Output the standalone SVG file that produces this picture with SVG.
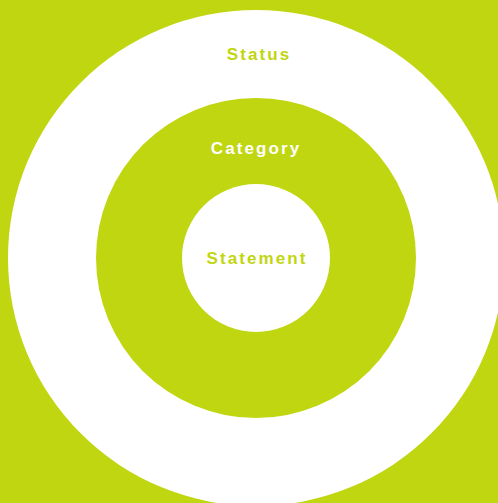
<svg xmlns="http://www.w3.org/2000/svg" width="498" height="503" viewBox="0 0 498 503">
<style>
.lbl{font-family:"Liberation Sans",Arial,sans-serif;font-weight:bold;font-size:17px;letter-spacing:2.1px;text-anchor:middle}
.g{fill:#BFD610}
.w{fill:#FFFFFF}
</style>
<rect x="0" y="0" width="498" height="503" class="g"/>
<g id="status">
<circle cx="256" cy="258" r="248" class="w"/>
<text x="259" y="60" class="lbl g">Status</text>
</g>
<g id="category">
<circle cx="256" cy="258" r="160" class="g"/>
<text x="256" y="154" class="lbl w">Category</text>
</g>
<g id="statement">
<circle cx="256" cy="258" r="74" class="w"/>
<text x="257" y="264" class="lbl g">Statement</text>
</g>
<g id="connectors"/>
</svg>
